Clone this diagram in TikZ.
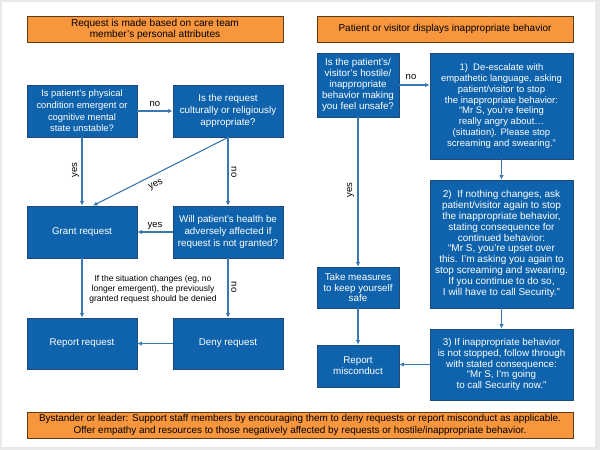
\documentclass[tikz,border=0pt]{standalone}
\usepackage{fontspec}
\setmainfont{Liberation Sans}
\usetikzlibrary{arrows.meta}
\definecolor{boxblue}{HTML}{0F63AC}
\definecolor{boxedge}{HTML}{1E4B7A}
\definecolor{arrowblue}{HTML}{3878B3}
\definecolor{orfill}{HTML}{F7963D}
\definecolor{oredge}{HTML}{5E3A17}
\definecolor{bggray}{HTML}{E9E9E9}
\tikzset{
  bluebox/.style={draw=boxedge, line width=0.8pt, fill=boxblue, text=white, align=center,
    inner sep=0.5pt, font=\fontsize{9.8}{11.6}\selectfont},
  rbox/.style={bluebox, font=\fontsize{9.8}{10.8}\selectfont},
  orbox/.style={draw=oredge, line width=0.8pt, fill=orfill, text=black, align=center,
    inner sep=1pt, font=\fontsize{10.1}{11}\selectfont},
  conn/.style={draw=arrowblue, line width=1.1pt, -{Latex[length=4.5pt,width=4.5pt]}},
  lbl/.style={font=\fontsize{9.5}{10}\selectfont, text=black, inner sep=0.5pt},
  note/.style={font=\fontsize{8.55}{9.8}\selectfont, text=black, align=center, inner sep=1pt}
}
\begin{document}
\begin{tikzpicture}[x=1pt,y=-1pt]
\useasboundingbox (0,0) rectangle (600,450);
\fill[bggray] (0,0) rectangle (600,450);
\fill[white] (2,2) rectangle (595,447);
% top orange
\node[orbox, minimum width=256pt, minimum height=26pt] (topL) at (155,29) {Request is made based on care team\\member’s personal attributes};
\node[orbox, minimum width=256pt, minimum height=26pt, font=\fontsize{10}{11}\selectfont] (topR) at (445,29) {Patient or visitor displays inappropriate behavior};
\node[orbox, minimum width=546pt, minimum height=26pt, font=\fontsize{9.93}{11.3}\selectfont] (bottom) at (300,425) {Bystander or leader: Support staff members by encouraging them to deny requests or report misconduct as applicable.\\Offer empathy and resources to those negatively affected by requests or hostile/inappropriate behavior.};
% left column
\node[bluebox, minimum width=110pt, minimum height=52pt, font=\fontsize{9.4}{11.6}\selectfont] (A) at (82,111) {Is patient’s physical\\condition emergent or\\cognitive mental\\state unstable?};
\node[bluebox, minimum width=110pt, minimum height=52pt] (B) at (228,111) {Is the request\\culturally or religiously\\appropriate?};
\node[bluebox, minimum width=110pt, minimum height=52pt] (grant) at (82,232) {Grant request};
\node[bluebox, minimum width=110pt, minimum height=52pt] (will) at (228,232) {Will patient’s health be\\adversely affected if\\request is not granted?};
\node[bluebox, minimum width=110pt, minimum height=51pt] (repreq) at (82,343.5) {Report request};
\node[bluebox, minimum width=110pt, minimum height=51pt] (deny) at (228,343.5) {Deny request};
% right column
\node[rbox, minimum width=82pt, minimum height=64pt] (Q) at (358,85) {Is the patient’s/\\visitor’s hostile/\\inappropriate\\behavior making\\you feel unsafe?};
\node[rbox, minimum width=143pt, minimum height=106pt, font=\fontsize{9.5}{10.8}\selectfont] (s1) at (501.5,106) {1)\ \ De-escalate with\\empathetic language, asking\\patient/visitor to stop\\the inappropriate behavior:\\“Mr S, you’re feeling\\really angry about…\\(situation). Please stop\\screaming and swearing.”};
\node[rbox, minimum width=143pt, minimum height=128pt, font=\fontsize{10}{10.8}\selectfont] (s2) at (501.5,244) {2)\ \ If nothing changes, ask\\patient/visitor again to stop\\the inappropriate behavior,\\stating consequence for\\continued behavior:\\“Mr S, you’re upset over\\this. I’m asking you again to\\stop screaming and swearing.\\If you continue to do so,\\I will have to call Security.”};
\node[rbox, minimum width=82pt, minimum height=41pt] (take) at (358,287.5) {Take measures\\to keep yourself\\safe};
\node[rbox, minimum width=82pt, minimum height=42pt] (repmis) at (358,366) {Report\\misconduct};
\node[rbox, minimum width=143pt, minimum height=71pt] (s3) at (501.5,364.5) {3) If inappropriate behavior\\is not stopped, follow through\\with stated consequence:\\“Mr S, I’m going\\to call Security now.”};
% connectors left
\draw[conn] (A.east) -- (B.west);
\node[lbl] (lno1) at (155,104) {no};
\draw[conn] (A.south) -- (grant.north);
\node[lbl, rotate=90] (lyes1) at (75.5,170) {yes};
\draw[conn] (B.south) -- ([xshift=11pt]grant.north);
\node[lbl, rotate=27] (lyes2) at (156,185) {yes};
\draw[conn] (B.south) -- (will.north);
\node[lbl, rotate=-90] (lno2) at (234,172) {no};
\draw[conn] (will.west) -- (grant.east);
\node[lbl] (lyes3) at (155,225.5) {yes};
\draw[conn] (grant.south) -- (repreq.north);
\draw[conn] (will.south) -- (deny.north);
\node[lbl, rotate=-90] (lno3) at (234,287) {no};
\draw[conn] (deny.west) -- (repreq.east);
\node[note] (changes) at (153,289.5) {If the situation changes (eg, no\\longer emergent), the previously\\granted request should be denied};
% connectors right
\draw[conn] (Q.east) -- (Q.east -| s1.west);
\node[lbl] (lno4) at (411,77) {no};
\draw[conn] (Q.south) -- (take.north);
\node[lbl, rotate=90] (lyes4) at (350.5,190) {yes};
\draw[conn] (take.south) -- (repmis.north);
\draw[conn] (s1.south) -- (s2.north);
\draw[conn] (s2.south) -- (s3.north);
\draw[conn] (s3.west) -- (s3.west -| repmis.east);
\end{tikzpicture}
\end{document}
